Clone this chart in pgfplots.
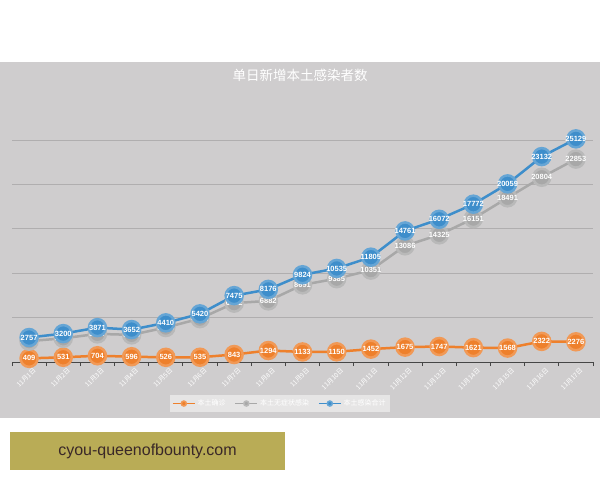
\documentclass[border=0pt]{standalone}
\usepackage{fontspec}
\setmainfont{Liberation Sans}
\newfontfamily\cjk{Noto Sans CJK SC}
\usepackage{pgfplots}
\usepackage{pgfplotstable}
\pgfplotsset{compat=1.18}

\definecolor{bggray}{RGB}{207,205,206}
\definecolor{gridgray}{RGB}{176,174,175}
\definecolor{axisdark}{RGB}{70,70,70}
\definecolor{cOrange}{RGB}{238,128,44}
\definecolor{cBlue}{RGB}{62,142,203}
\definecolor{cGray}{RGB}{168,168,168}
\definecolor{legbg}{RGB}{230,229,229}
\definecolor{khaki}{RGB}{185,172,86}
\definecolor{wmtext}{RGB}{58,40,40}

% daily new local cases: confirmed, asymptomatic, total
\pgfplotstableread{
idx conf asym total
0 409 2348 2757
1 531 2669 3200
2 704 3167 3871
3 596 3056 3652
4 526 3884 4410
5 535 4885 5420
6 843 6632 7475
7 1294 6882 8176
8 1133 8691 9824
9 1150 9385 10535
10 1452 10351 11805
11 1675 13086 14761
12 1747 14325 16072
13 1621 16151 17772
14 1568 18491 20059
15 2322 20804 23132
16 2276 22853 25129
}\datatable

\begin{document}
\begin{tikzpicture}
\path[use as bounding box] (0,0) rectangle (600pt,480pt);
\fill[white] (0,0) rectangle (600pt,480pt);
\fill[bggray] (0,62pt) rectangle (600pt,418pt);
\node[font=\cjk\fontsize{13.5}{13.5}\selectfont, text=white] at (300pt,405pt) {单日新增本土感染者数};

\begin{axis}[
    at={(12pt,118pt)}, anchor=south west,
    scale only axis, width=581pt, height=248.64pt,
    xmin=-0.5, xmax=16.5, ymin=0, ymax=28000,
    clip=false,
    scaled y ticks=false,
    axis x line=bottom, axis y line=left,
    x axis line style={-, draw=axisdark, line width=0.9pt},
    y axis line style={draw=none},
    ytick={5000,10000,15000,20000,25000},
    yticklabels={},
    ytick style={draw=none},
    ymajorgrids,
    major grid style={draw=gridgray, line width=0.9pt},
    xtick={0,...,16},
    xticklabels={11月1日,11月2日,11月3日,11月4日,11月5日,11月6日,11月7日,11月8日,11月9日,11月10日,11月11日,11月12日,11月13日,11月14日,11月15日,11月16日,11月17日},
    major x tick style={draw=none},
    minor xtick={-0.5,0.5,...,16.5},
    minor x tick style={draw=axisdark, line width=0.8pt},
    minor tick length=4pt,
    xtick align=outside,
    xticklabel style={font=\cjk\fontsize{6.5}{6.5}\selectfont, text=white, rotate=45, anchor=east, inner sep=0pt, yshift=-6pt, xshift=2pt},
    /pgf/number format/.cd, fixed, precision=0, 1000 sep={}, assume math mode=true,
    /pgfplots/.cd,
    nodes near coords,
    nodes near coords style={anchor=center, font=\fontsize{7.5}{7.5}\selectfont\bfseries, text=white, inner sep=0pt},
    every axis plot/.append style={line width=2.5pt, mark=*, mark size=8.5pt},
    legend columns=3,
    legend style={at={(0.461,-0.167)}, anchor=center, fill=legbg, draw=none,
        font=\cjk\fontsize{7}{7}\selectfont, text=white, inner ysep=3pt, inner xsep=2pt,
        /tikz/every even column/.append style={column sep=7pt}},
    legend image code/.code={\draw[mark repeat=2, mark phase=2, #1] plot coordinates {(0pt,0pt) (11pt,0pt) (22pt,0pt)};},
    legend image post style={mark size=2.5pt, line width=1.5pt},
]
\addplot[cOrange, mark options={fill=cOrange, draw=cOrange!80!white}] table[x=idx, y=conf] {\datatable};
\addplot[cGray, mark options={fill=cGray, draw=cGray!80!white}] table[x=idx, y=asym] {\datatable};
\addplot[cBlue, mark options={fill=cBlue, draw=cBlue!80!white}] table[x=idx, y=total] {\datatable};
\legend{本土确诊, 本土无症状感染, 本土感染合计}
\end{axis}

\fill[khaki] (10pt,10pt) rectangle (285pt,48pt);
\node[font=\fontsize{16}{16}\selectfont, text=wmtext] at (147.5pt,29pt) {cyou-queenofbounty.com};
\end{tikzpicture}
\end{document}
